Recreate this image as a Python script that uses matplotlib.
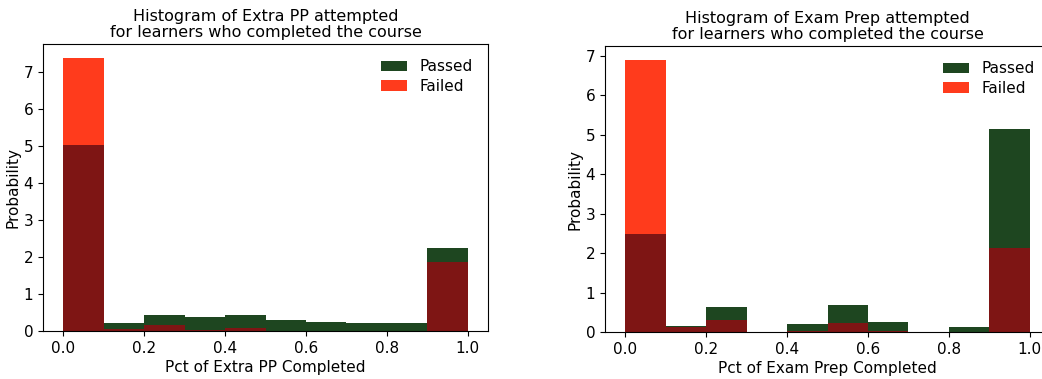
import matplotlib
matplotlib.use("Agg")
import matplotlib.pyplot as plt
import numpy as np

plt.rcParams["font.family"] = "DejaVu Sans"

# histogram bins (10 equal bins on [0, 1]) and density heights
bin_edges = np.linspace(0.0, 1.0, 11)

extra_pp_passed = [5.02, 0.22, 0.42, 0.37, 0.42, 0.29, 0.24, 0.22, 0.21, 2.25]
extra_pp_failed = [7.39, 0.06, 0.15, 0.04, 0.08, 0.01, 0.01, 0.01, 0.01, 1.87]

exam_prep_passed = [2.49, 0.14, 0.64, 0.0, 0.21, 0.68, 0.25, 0.0, 0.135, 5.14]
exam_prep_failed = [6.90, 0.13, 0.30, 0.0, 0.03, 0.23, 0.02, 0.0, 0.0, 2.12]

panels = [
    ("Extra PP", extra_pp_passed, extra_pp_failed),
    ("Exam Prep", exam_prep_passed, exam_prep_failed),
]

PASSED = "#1e4620"
FAILED = "#ff3b1c"
OVERLAP = "#7e1514"

fig = plt.figure(figsize=(10.42, 3.79), dpi=100)
W, H = 1042, 379
boxes = [(43, 44, 445, 287), (605, 46, 445, 286)]

for (name, passed, failed), (x0, y0, w, h) in zip(panels, boxes):
    ax = fig.add_axes([x0 / W, 1 - (y0 + h) / H, w / W, h / H])
    left = bin_edges[:-1]
    width = np.diff(bin_edges)
    passed = np.asarray(passed)
    failed = np.asarray(failed)
    ax.bar(left, passed, width=width, align="edge", color=PASSED, lw=0, label="Passed")
    ax.bar(left, failed, width=width, align="edge", color=FAILED, lw=0, label="Failed")
    # where the translucent bars overlap the colour turns dark red
    ax.bar(left, np.minimum(passed, failed), width=width, align="edge", color=OVERLAP, lw=0)
    ax.set_xlim(-0.05, 1.05)
    ax.set_ylim(0, max(passed.max(), failed.max()) * 1.05)
    ax.set_xticks([0.0, 0.2, 0.4, 0.6, 0.8, 1.0])
    ax.tick_params(labelsize=11)
    ax.set_xlabel(f"Pct of {name} Completed", fontsize=11, labelpad=3)
    ax.set_ylabel("Probability", fontsize=11, labelpad=2)
    ax.set_title(f"Histogram of {name} attempted\nfor learners who completed the course",
                 fontsize=11.5, linespacing=1.05, pad=5)
    ax.legend(loc="upper right", frameon=False, fontsize=11, handlelength=1.7,
              labelspacing=0.3, borderaxespad=0.6)

fig.savefig("out.png", dpi=100, facecolor="white")
